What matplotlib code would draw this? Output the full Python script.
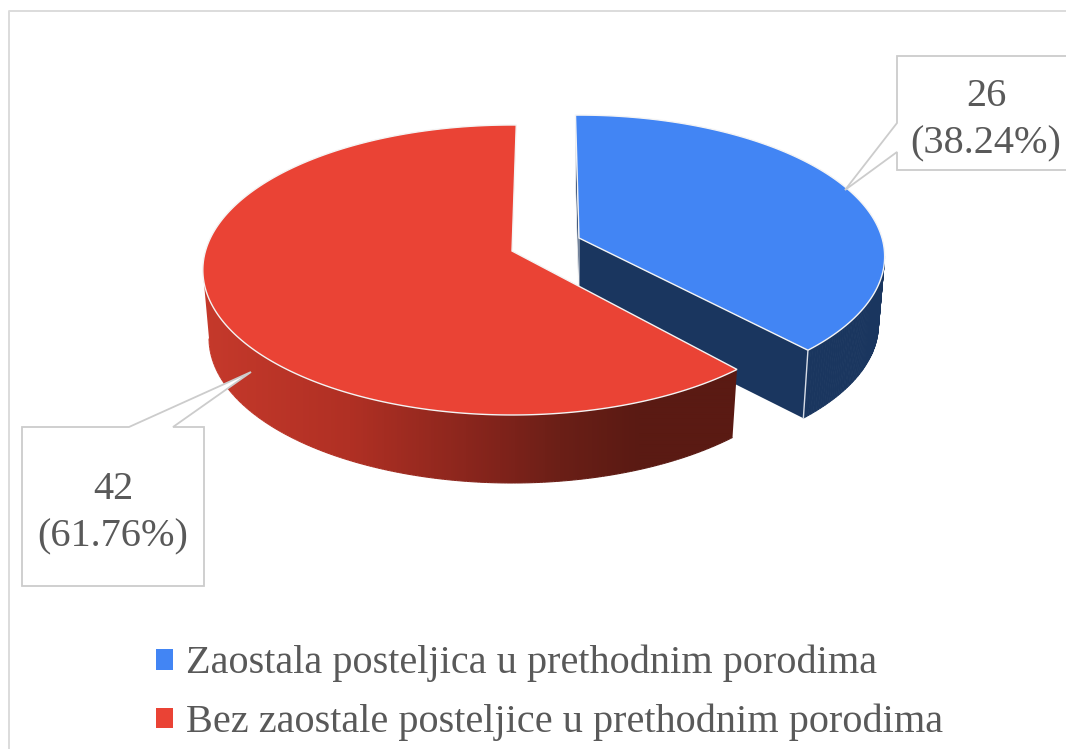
import numpy as np
import matplotlib
matplotlib.use('Agg')
import matplotlib.pyplot as plt
from matplotlib.collections import LineCollection, PolyCollection
from matplotlib.colors import LinearSegmentedColormap, to_rgb
from matplotlib.patches import Patch, Polygon

# data
categories = ['Zaostala posteljica u prethodnim porodima',
              'Bez zaostale posteljice u prethodnim porodima']
counts = [26, 42]
percent_labels = ['38.24%', '61.76%']

# colours
BLUE = '#4285f4'
BLUE_DARK = '#1a365f'
RED = '#ea4335'
GREY_TEXT = '#595959'
BORDER = '#cccccc'
FRAME = '#dcdcdc'
EDGE = '#f4f4f4'
side_stops_x = [205, 350, 500, 560, 640, 735]
side_stops_c = ['#c5392b', '#b03024', '#80231b', '#6b1f17', '#5a1a13', '#5a1a13']

# pie shape, all in pixels
K = 0.131      # perspective
DEPTH = 68
BOTTOM_SCALE = 0.98
NEAR_COS = -0.13  # rim angle where the side wall starts to show
explode = [(579, 238, 303, 139, -0.75), (512, 251, 306.5, 142.5, 0.9)]

plt.rcParams['font.family'] = ['Liberation Serif', 'DejaVu Serif']

fig = plt.figure(figsize=(10.66, 7.49), dpi=100)
ax = fig.add_axes([0, 0, 1, 1])
ax.axis('off')


def rim(t, shape, bottom=False):
    ax0, ay0, a, b, _ = shape
    t = np.radians(t)
    w = 1 + K * np.cos(t)
    s = BOTTOM_SCALE if bottom else 1
    x = ax0 + s * a * np.sin(t) / w
    y = ay0 + (DEPTH if bottom else 0) - b * np.cos(t) / w
    return np.column_stack([x, y])


def side_colour(x):
    rgb = np.array([to_rgb(c) for c in side_stops_c])
    return [np.interp(x, side_stops_x, rgb[:, i]) for i in range(3)]


def side_quads(t, shape):
    # only the near part of the rim shows, the far part is behind the top face
    t = t[np.cos(np.radians(t)) < NEAR_COS]
    top = rim(t, shape)
    bot = rim(t, shape, bottom=True)
    return [[top[i], top[i + 1], bot[i + 1], bot[i]] for i in range(len(t) - 1)]


total = sum(counts)
blue_span = 360 * counts[0] / total
red_span = 360 * counts[1] / total

# outer frame
ax.plot([9, 9, 1066], [749, 11, 11], color=FRAME, lw=1.4, zorder=1)

# blue slice
shape = explode[0]
t0 = shape[4]
t = np.linspace(t0, t0 + blue_span, 200)
top = rim(t, shape)
bot = rim(t, shape, bottom=True)
apex = np.array(shape[:2], float)
apex_bot = apex + [0, DEPTH]
ax.add_collection(PolyCollection(side_quads(t, shape), facecolors=BLUE_DARK, edgecolors=BLUE_DARK,
                                 linewidths=0.6, zorder=2))
ax.add_patch(Polygon(np.vstack([apex, top[-1], bot[-1], apex_bot]), fc=BLUE_DARK, ec='none', zorder=2))
ax.add_patch(Polygon(np.vstack([apex, top[0], bot[0], apex_bot]), fc=BLUE_DARK, ec=EDGE, lw=0.6, zorder=2))
ax.add_patch(Polygon(np.vstack([apex, top]), fc=BLUE, ec=EDGE, lw=1, zorder=3))
ax.plot([top[-1, 0], bot[-1, 0]], [top[-1, 1], bot[-1, 1]], color='#d8dde6', lw=1, zorder=3)

# red slice, side wall is a horizontal gradient clipped to the rim
shape = explode[1]
t0 = shape[4] + blue_span
t = np.linspace(t0, t0 + red_span, 400)
top = rim(t, shape)
apex = np.array(shape[:2], float)
near = t[np.cos(np.radians(t)) < NEAR_COS]
near_top = rim(near, shape)
near_bot = rim(near, shape, bottom=True)
grad_x = np.linspace(195, 745, 550)
grad = LinearSegmentedColormap.from_list('side', [side_colour(x) for x in grad_x])
wall = Polygon(np.vstack([near_bot, near_top[-1], near_top[0]]), transform=ax.transData, fc='none', ec='none')
ax.add_patch(wall)
im = ax.imshow(grad_x[None, :], cmap=grad, extent=(195, 745, 500, 260), aspect='auto',
               interpolation='bilinear', zorder=4)
im.set_clip_path(wall)
segs = np.stack([near_bot[:-1], near_bot[1:]], axis=1)
ax.add_collection(LineCollection(segs, colors=[side_colour(s[0][0]) for s in segs], linewidths=0.8, zorder=4))
ax.add_patch(Polygon(np.vstack([apex, top]), fc=RED, ec=EDGE, lw=1, zorder=5))

# callout labels
boxes = [
    [(897, 56), (1070, 56), (1070, 170), (897, 170), (897, 152), (845, 190), (897, 123)],
    [(22, 427), (129, 427), (251, 372), (173, 427), (204, 427), (204, 586), (22, 586)],
]
label_pos = [(986, 120), (113, 513.5)]
for i in range(2):
    ax.add_patch(Polygon(boxes[i], fc='white', ec=BORDER, lw=1.3, joinstyle='miter', zorder=6))
    ax.text(label_pos[i][0], label_pos[i][1], f'{counts[i]}\n({percent_labels[i]})',
            color=GREY_TEXT, fontsize=29, ha='center', va='center', linespacing=1.36, zorder=7)

handles = [Patch(fc=BLUE, ec='none'), Patch(fc=RED, ec='none')]
ax.legend(handles, categories, loc='upper left', bbox_to_anchor=(156 / 1066, 1 - 645 / 749),
          frameon=False, fontsize=29, labelcolor=GREY_TEXT, handlelength=0.42, handleheight=0.42,
          handletextpad=0.32, labelspacing=0.53, borderpad=0, borderaxespad=0)

ax.set_xlim(0, 1066)
ax.set_ylim(749, 0)

fig.savefig('out.png', dpi=100, facecolor='white')
